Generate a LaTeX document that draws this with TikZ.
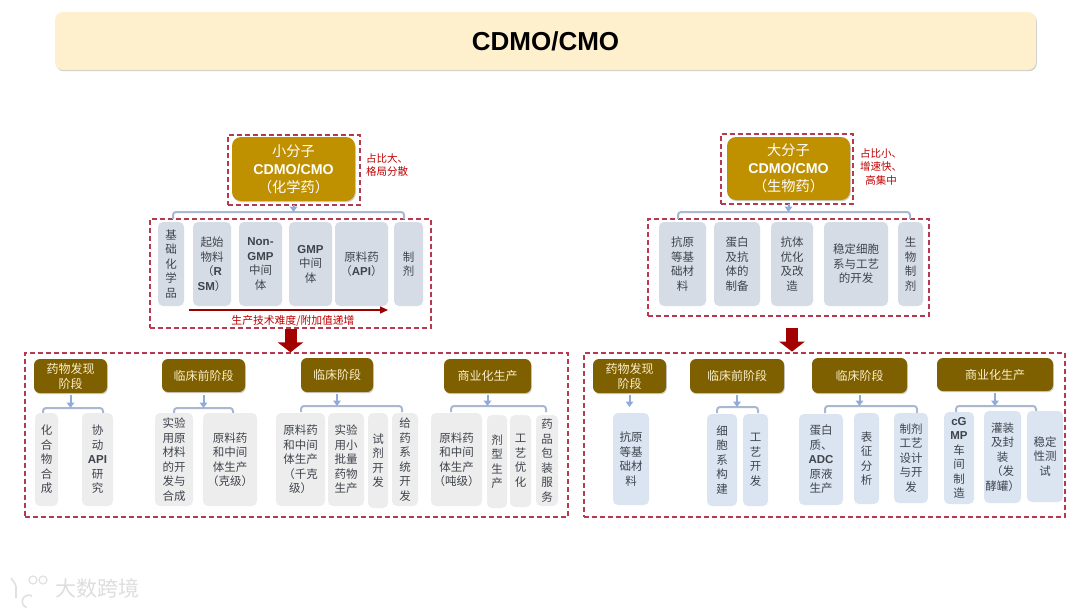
\documentclass[tikz,border=0pt]{standalone}
\usepackage{fontspec}
\setmainfont{Noto Sans CJK SC}
\newfontfamily\latf{Liberation Sans}
\newcommand{\lat}[1]{{\latf\bfseries #1}}
\usetikzlibrary{arrows.meta,shadows,calc}
\definecolor{gold}{HTML}{BF9000}
\definecolor{brownb}{HTML}{7F6000}
\definecolor{greyblue}{HTML}{D6DCE5}
\definecolor{lgrey}{HTML}{EDEDED}
\definecolor{lblue}{HTML}{DAE5F1}
\definecolor{conn}{HTML}{A9B7CF}
\definecolor{tipblue}{HTML}{8FAADC}
\definecolor{redd}{HTML}{C00000}
\definecolor{frame}{HTML}{B5394F}
\definecolor{itemtxt}{HTML}{3F444C}
\definecolor{cream}{HTML}{FBEFCB}
\definecolor{titlefill}{HTML}{FEF0CC}
\tikzset{
  softshadow/.style={drop shadow={shadow xshift=0.8pt,shadow yshift=-1.2pt,opacity=0.28,fill=black!70}},
  basebox/.style={rounded corners=5pt,inner sep=0pt,align=center,text=itemtxt,font=\fontsize{11.5}{14.5}\selectfont},
  itemg/.style={basebox,fill=greyblue},
  iteml/.style={basebox,fill=lgrey},
  itemb/.style={basebox,fill=lblue},
  goldbox/.style={rounded corners=9pt,inner sep=0pt,align=center,fill=gold,text=white,font=\fontsize{14.2}{18}\selectfont,softshadow},
  brownbox/.style={rounded corners=6pt,inner sep=0pt,align=center,fill=brownb,text=cream,font=\fontsize{12}{15}\selectfont,softshadow},
  framebox/.style={draw=frame,line width=1.25pt,inner sep=0pt,dash pattern=on 5pt off 3pt},
  bracket/.style={draw=conn,line width=2pt,rounded corners=3pt},
  tiparrow/.style={draw=tipblue,line width=2pt,-{Triangle[width=7.5pt,length=5.5pt,fill=tipblue]}},
  bigarrow/.style={draw=redd!85!black,line width=12pt,-{Triangle[width=25pt,length=10pt,fill=redd!85!black]}},
  notetxt/.style={text=redd,align=center,inner sep=0pt,font=\fontsize{10.5}{13.5}\selectfont},
}
% \bx[style]{name}{x0}{y0}{x1}{y1}{text}
\newcommand{\bx}[7][itemg]{%
  \node[#1,minimum width=#5pt-#3pt,minimum height=#6pt-#4pt] (#2) at ({(#3+#5)/2},{(#4+#6)/2}) {#7};}
% \brk{parent}{name}{x0}{x1}{gap}{ybar}{yend}
\newcommand{\brk}[7]{%
  \coordinate (#2a) at (#3,#7);
  \coordinate (#2b) at (#4,#7);
  \coordinate (#2y) at (0,#6);
  \draw[bracket] (#2a) |- (#2y -| #2b) -- (#2b);
  \draw[tiparrow] ($(#1.south)+(0,#5)$) -- (#1.south |- #2y);}
\begin{document}
\begin{tikzpicture}[x=1pt,y=-1pt]
\useasboundingbox[fill=white] (0,0) rectangle (1080,608);
% title
\bx[rounded corners=8pt,inner sep=0pt,fill=titlefill,text=black,font=\fontsize{26}{30}\selectfont,softshadow]{title}{55}{12}{1036}{70}{\lat{CDMO/CMO}}

% frames
\bx[framebox]{fa}{228}{135}{360}{205}{}
\bx[framebox]{fb}{150}{219}{431}{328}{}
\bx[framebox]{fc}{721}{134}{853}{204}{}
\bx[framebox]{fd}{648}{219}{929}{316}{}
\bx[framebox]{fe}{25}{353}{568}{517}{}
\bx[framebox]{ff}{584}{353}{1065}{517}{}

% upper left
\bx[goldbox]{sm}{232}{137}{355}{201}{小分子\\\lat{CDMO/CMO}\\（化学药）}
\node[notetxt] (smn) at (387,165) {占比大、\\格局分散};
\bx{a1}{158}{222}{184}{306}{基\\础\\化\\学\\品}
\bx{a2}{193}{222}{231}{306}{起始\\物料\\（\lat{R}\\\lat{SM}）}
\bx{a3}{239}{222}{282}{306}{\lat{Non-}\\\lat{GMP}\\中间\\体}
\bx{a4}{289}{222}{332}{306}{\lat{GMP}\\中间\\体}
\bx{a5}{335}{222}{388}{306}{原料药\\（\lat{API}）}
\bx{a6}{394}{222}{423}{306}{制\\剂}
\brk{sm}{ba}{173}{404}{4}{212}{219}
\coordinate (ra0) at (189,310);
\coordinate (ra1) at (388,310);
\draw[draw=redd!80!black,line width=1.2pt,-{Triangle[width=7pt,length=8pt]}] (ra0) -- (ra1);
\node[text=redd,inner sep=0pt,font=\fontsize{10.8}{12}\selectfont] (rt) at (293,321) {生产技术难度/附加值递增};

% upper right
\bx[goldbox]{lm}{727}{137}{850}{200}{大分子\\\lat{CDMO/CMO}\\（生物药）}
\node[notetxt] (lmn) at (881,167) {占比小、\\增速快、\\高集中};
\bx{b1}{659}{222}{706}{306}{抗原\\等基\\础材\\料}
\bx{b2}{714}{222}{760}{306}{蛋白\\及抗\\体的\\制备}
\bx{b3}{771}{222}{813}{306}{抗体\\优化\\及改\\造}
\bx{b4}{824}{222}{888}{306}{稳定细胞\\系与工艺\\的开发}
\bx{b5}{898}{222}{923}{306}{生\\物\\制\\剂}
\brk{lm}{bb}{678}{910}{4}{212}{219}

% big red arrows
\coordinate (ga) at (fb.south);
\coordinate (gb) at (fb.south |- fe.north);
\draw[bigarrow] (ga) -- (gb);
\coordinate (gc) at ($(fd.south)+(3.5,11)$);
\coordinate (gd) at ($(fd.south)+(3.5,35)$);
\draw[bigarrow] (gc) -- (gd);

% lower left
\bx[brownbox]{c1}{34}{359}{107}{393}{药物发现\\阶段}
\bx[brownbox]{c2}{162}{359}{245}{392}{临床前阶段}
\bx[brownbox]{c3}{301}{358}{373}{392}{临床阶段}
\bx[brownbox]{c4}{444}{359}{531}{393}{商业化生产}
\brk{c1}{bc}{43}{103}{2}{408}{413}
\brk{c2}{bd}{174}{233}{3}{408}{413}
\brk{c3}{be}{301}{402}{2}{406}{412}
\brk{c4}{bf}{451}{546}{2}{406}{412}
\bx[iteml]{d1}{35}{413}{58}{506}{化\\合\\物\\合\\成}
\bx[iteml]{d2}{82}{413}{113}{506}{协\\动\\\lat{API}\\研\\究}
\bx[iteml]{d3}{155}{413}{193}{506}{实验\\用原\\材料\\的开\\发与\\合成}
\bx[iteml]{d4}{203}{413}{257}{506}{原料药\\和中间\\体生产\\（克级）}
\bx[iteml]{d5}{276}{413}{325}{506}{原料药\\和中间\\体生产\\（千克\\级）}
\bx[iteml]{d6}{328}{413}{364}{506}{实验\\用小\\批量\\药物\\生产}
\bx[iteml]{d7}{368}{413}{388}{508}{试\\剂\\开\\发}
\bx[iteml]{d8}{392}{413}{418}{506}{给\\药\\系\\统\\开\\发}
\bx[iteml]{d9}{431}{413}{482}{506}{原料药\\和中间\\体生产\\（吨级）}
\bx[iteml]{d10}{487}{415}{507}{508}{剂\\型\\生\\产}
\bx[iteml]{d11}{510}{415}{531}{507}{工\\艺\\优\\化}
\bx[iteml]{d12}{536}{415}{558}{506}{药\\品\\包\\装\\服\\务}

% lower right
\bx[brownbox]{e1}{593}{359}{666}{393}{药物发现\\阶段}
\bx[brownbox]{e2}{690}{359}{784}{393}{临床前阶段}
\bx[brownbox]{e3}{812}{358}{907}{393}{临床阶段}
\bx[brownbox]{e4}{937}{358}{1053}{391}{商业化生产}
\coordinate (bgy) at (0,407);
\draw[tiparrow] ($(e1.south)+(0,2)$) -- (e1.south |- bgy);
\brk{e2}{bh}{717}{758}{2}{407}{413}
\brk{e3}{bi}{825}{917}{2}{406}{413}
\brk{e4}{bj}{956}{1036}{2}{406}{412}
\bx[itemb]{f1}{613}{413}{649}{505}{抗原\\等基\\础材\\料}
\bx[itemb]{f2}{707}{414}{737}{506}{细\\胞\\系\\构\\建}
\bx[itemb]{f3}{743}{414}{768}{506}{工\\艺\\开\\发}
\bx[itemb]{f4}{799}{414}{843}{505}{蛋白\\质、\\\lat{ADC}\\原液\\生产}
\bx[itemb]{f5}{854}{413}{879}{504}{表\\征\\分\\析}
\bx[itemb]{f6}{894}{413}{928}{503}{制剂\\工艺\\设计\\与开\\发}
\bx[itemb]{f7}{944}{412}{974}{504}{\lat{cG}\\\lat{MP}\\车\\间\\制\\造}
\bx[itemb]{f8}{984}{411}{1021}{503}{灌装\\及封\\装\\（发\\酵罐）}
\bx[itemb]{f9}{1027}{411}{1063}{502}{稳定\\性测\\试}

% watermark
\node[inner sep=0pt,text=black!13,font=\fontsize{21}{24}\selectfont] (wm) at (98,588) {大数跨境};
\draw[black!12,line width=1.6pt,rounded corners=2pt] (11,578) -- (16,585) -- (16,598);
\draw[black!12,line width=1.6pt] (32,596) arc (-60:-250:6.5);
\node[draw=black!12,line width=1.2pt,circle,minimum size=8pt,inner sep=0pt] (w1) at (33,580) {};
\node[draw=black!12,line width=1.2pt,circle,minimum size=8pt,inner sep=0pt] (w2) at (43,580) {};
\end{tikzpicture}
\end{document}
